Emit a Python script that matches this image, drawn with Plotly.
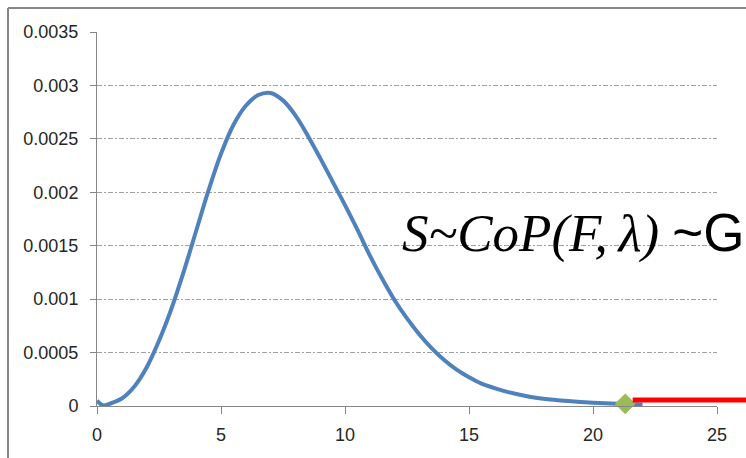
import plotly.graph_objects as go

# ---- data ----
curve_x = [0, 0.25, 0.5, 1, 1.5, 2, 2.5, 3, 3.5, 4, 4.5, 5, 5.5, 6, 6.5, 7, 7.5, 8,
           8.5, 9, 9.5, 10, 10.5, 11, 11.5, 12, 12.5, 13, 13.5, 14, 14.5, 15, 15.5,
           16, 16.5, 17, 17.5, 18, 19, 20, 21, 22]
curve_y = [0.00005, 0.000005, 0.00002, 0.00007, 0.00018, 0.00036, 0.00061, 0.00091,
           0.00126, 0.00164, 0.00202, 0.00236, 0.00263, 0.00281, 0.00291, 0.00293,
           0.00286, 0.00272, 0.00253, 0.00232, 0.00210, 0.00188, 0.00165, 0.00141,
           0.00119, 0.00099, 0.00082, 0.00067, 0.00054, 0.00043, 0.00034, 0.00027,
           0.00021, 0.00017, 0.000135, 0.000107, 0.000085, 0.000068, 0.000046, 0.00003,
           0.00002, 0.000015]
marker_x = [21.3]
marker_y = [0.00002]
red_start_x = 21.6
red_y = 0.000056

x_tick_vals = [0, 5, 10, 15, 20, 25]
x_tick_text = ["0", "5", "10", "15", "20", "25"]
y_tick_vals = [0, 0.0005, 0.001, 0.0015, 0.002, 0.0025, 0.003, 0.0035]
y_tick_text = ["0", "0.0005", "0.001", "0.0015", "0.002", "0.0025", "0.003", "0.0035"]

label_x = 12.2
label_y = 0.00162

X_RANGE = [0, 25]
Y_RANGE = [0, 0.0035]

# ---- layout geometry (pixels) ----
W, H = 746, 458
ML, MR, MT, MB = 97, 29, 32, 52
PW, PH = W - ML - MR, H - MT - MB


def px_to_paper_x(px):
    return (px - ML) / PW


def px_to_paper_y(py):
    return (H - MB - py) / PH


def data_to_paper_x(x):
    return (x - X_RANGE[0]) / (X_RANGE[1] - X_RANGE[0])


def data_to_paper_y(y):
    return (y - Y_RANGE[0]) / (Y_RANGE[1] - Y_RANGE[0])


fig = go.Figure()
fig.add_trace(go.Scatter(
    x=curve_x, y=curve_y, mode="lines",
    line=dict(color="#4F81BD", width=4, shape="spline", smoothing=1.0),
    showlegend=False, hoverinfo="skip"))
fig.add_trace(go.Scatter(
    x=marker_x, y=marker_y, mode="markers",
    marker=dict(symbol="diamond", size=16, color="#9BBB59"),
    cliponaxis=False, showlegend=False, hoverinfo="skip"))

# red thick segment extending past the plot edge
fig.add_shape(type="line", xref="paper", yref="paper",
              x0=data_to_paper_x(red_start_x), x1=px_to_paper_x(W + 5),
              y0=data_to_paper_y(red_y), y1=data_to_paper_y(red_y),
              line=dict(color="#FF0000", width=5), layer="above")

# outer chart frame (top and left edges)
frame_color = "#868686"
fig.add_shape(type="line", xref="paper", yref="paper",
              x0=px_to_paper_x(8), x1=px_to_paper_x(W + 5),
              y0=px_to_paper_y(8), y1=px_to_paper_y(8),
              line=dict(color=frame_color, width=2))
fig.add_shape(type="line", xref="paper", yref="paper",
              x0=px_to_paper_x(8), x1=px_to_paper_x(8),
              y0=px_to_paper_y(8), y1=px_to_paper_y(H + 5),
              line=dict(color=frame_color, width=2))

fig.add_annotation(
    x=label_x, y=label_y, xref="x", yref="y", xanchor="left", yanchor="middle",
    showarrow=False,
    text="<i>S~CoP(F,\u2009λ)</i> <span style='font-family:Liberation Sans'>~G</span>",
    font=dict(family="Liberation Serif", size=53, color="#000000"))

tick_font = dict(family="Liberation Sans", size=18, color="#262626")
fig.update_xaxes(
    range=X_RANGE, tickmode="array", tickvals=x_tick_vals, ticktext=x_tick_text,
    showgrid=False, zeroline=False, showline=True, linecolor="#868686", linewidth=1,
    ticks="outside", ticklen=7, tickcolor="#868686", tickfont=tick_font,
    ticklabelstandoff=5)
fig.update_yaxes(
    range=Y_RANGE, tickmode="array", tickvals=y_tick_vals, ticktext=y_tick_text,
    showgrid=True, gridcolor="#A0A0A0", gridwidth=1, griddash="5px,2px,2px,2px",
    zeroline=False, showline=True, linecolor="#868686", linewidth=1,
    ticks="outside", ticklen=6, tickcolor="#868686", tickfont=tick_font,
    ticklabelstandoff=8)

fig.update_layout(
    width=W, height=H,
    margin=dict(l=ML, r=MR, t=MT, b=MB, pad=0),
    paper_bgcolor="white", plot_bgcolor="white",
    showlegend=False)

fig.write_html("out.html")
